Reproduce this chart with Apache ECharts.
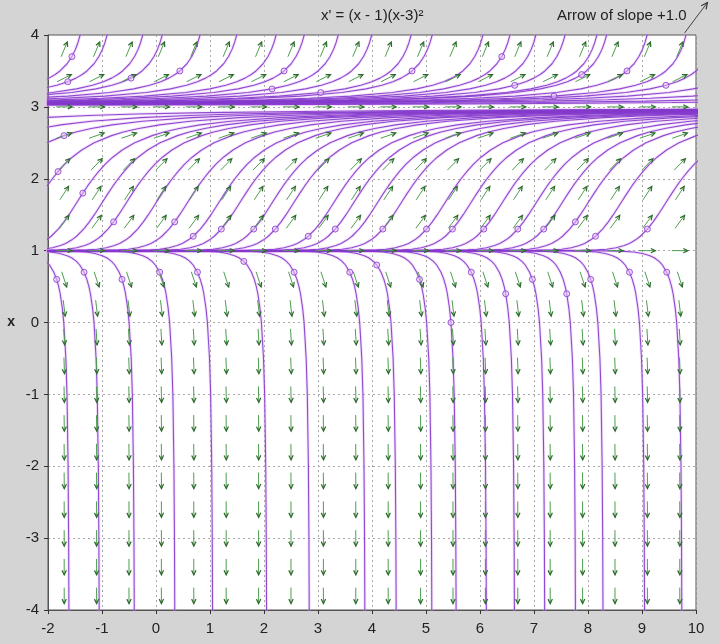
<!DOCTYPE html>
<html>
<head>
<meta charset="utf-8">
<script src="https://cdn.jsdelivr.net/npm/echarts/dist/echarts.min.js"></script>
<style>
html,body{margin:0;padding:0;background:#d4d4d4;}
#chart{width:720px;height:644px;}
</style>
</head>
<body>
<div id="chart"></div>
<script>
// ---- Data ----
const titleText = "x' = (x - 1)(x-3)\u00b2";
const keyText = "Arrow of slope +1.0";

// direction-field grid (t columns, x rows) and the slope drawn in each row
const arrowCols = [-1.7, -1.1, -0.5, 0.1, 0.7, 1.3, 1.9, 2.5, 3.1, 3.7, 4.3, 4.9, 5.5, 6.1, 6.7, 7.3, 7.9, 8.5, 9.1, 9.7];
const arrowRows = [-3.8, -3.4, -3.0, -2.6, -2.2, -1.8, -1.4, -1.0, -0.6, -0.2, 0.2, 0.6, 1.0, 1.4, 1.8, 2.2, 2.6, 3.0, 3.4, 3.8];
const arrowSlopes = [-222, -180, -144, -113, -86.5, -64.5, -46.5, -32, -20.7, -12.3, -6.27, -2.30, 0, 1.02, 1.15, 0.77, 0.26, 0, 0.38, 1.79];

// slope-key arrow at the top right: [t, x, slope]
const keyArrow = [[10.0, 4.24, 1.0]];

// solution profile above x = 3: [time offset from blow-up, x]
const profileAbove = [[-32.1, 3.015], [-23.85, 3.02], [-15.61, 3.03], [-11.52, 3.04], [-9.07, 3.05], [-7.45, 3.06],
  [-5.44, 3.08], [-4.24, 3.1], [-3.45, 3.12], [-2.67, 3.15], [-1.90, 3.2], [-1.451, 3.25], [-1.157, 3.3],
  [-0.953, 3.35], [-0.802, 3.4], [-0.687, 3.45], [-0.598, 3.5], [-0.467, 3.6], [-0.377, 3.7], [-0.312, 3.8],
  [-0.263, 3.9], [-0.225, 4.0], [-0.171, 4.2]];
// solution profile between 1 and 3: [time offset from crossing x = 2, x]
const profileBetween = [[-14, 1.0], [-2.324, 1.0005], [-2.15, 1.001], [-1.875, 1.003], [-1.572, 1.01], [-1.396, 1.02],
  [-1.218, 1.04], [-1.070, 1.07], [-0.973, 1.1], [-0.858, 1.15], [-0.771, 1.2], [-0.640, 1.3], [-0.534, 1.4],
  [-0.441, 1.5], [-0.355, 1.6], [-0.270, 1.7], [-0.185, 1.8], [-0.096, 1.9], [0, 2.0], [0.106, 2.1], [0.226, 2.2],
  [0.369, 2.3], [0.545, 2.4], [0.775, 2.5], [1.097, 2.6], [1.316, 2.65], [1.600, 2.7], [1.986, 2.75], [2.549, 2.8],
  [3.461, 2.85], [4.355, 2.88], [5.236, 2.9], [6.545, 2.92], [8.702, 2.94], [10.416, 2.95], [12.97, 2.96], [17.21, 2.97]];
// solution profile below x = 1: [time offset from blow-down, x]
const profileBelow = [[-14, 1.0], [-1.650, 0.999], [-1.376, 0.997], [-1.077, 0.99], [-0.906, 0.98], [-0.738, 0.96],
  [-0.605, 0.93], [-0.523, 0.9], [-0.433, 0.85], [-0.372, 0.8], [-0.292, 0.7], [-0.240, 0.6], [-0.202, 0.5],
  [-0.174, 0.4], [-0.135, 0.2], [-0.108, 0.0], [-0.069, -0.5], [-0.048, -1.0], [-0.028, -2.0], [-0.018, -3.0],
  [-0.0127, -4.0], [-0.011, -4.5]];

// each solution: [time shift, profile point holding its initial-point circle (-1 = none)]
const curvesAbove = [[-1.18, 18], [-0.68, 13], [-0.02, -1], [0.34, 14], [1.04, 16], [1.72, -1], [2.45, -1],
  [2.97, 16], [3.6, 11], [4.22, -1], [4.95, 10], [5.34, 16], [6.28, -1], [6.78, 18], [7.26, -1], [7.8, 12],
  [8.39, -1], [8.57, 15], [9.32, 16], [10.04, 9], [10.6, 12], [11.4, -1], [12.6, -1], [14.5, -1], [17, -1]];
const curvesBetween = [[-5.6, -1], [-3.75, -1], [-2.8, 24], [-1.92, 19], [-1.17, 16], [-0.7, -1], [-0.25, 12],
  [0.3, -1], [0.88, 12], [1.46, 10], [1.85, 11], [2.45, 11], [2.85, 11], [3.59, 10], [3.96, 11], [4.4, -1],
  [4.84, 11], [5.65, 11], [6.13, 11], [6.71, 11], [7.34, 11], [7.82, 11], [8.3, 12], [8.91, 10], [9.74, 11]];
const curvesBelow = [[-1.6, 11], [-1.04, 10], [-0.39, 11], [0.36, 10], [1.06, 10], [2.06, 8], [2.85, 10],
  [3.88, 10], [4.46, 9], [5.12, 11], [5.57, 15], [6.13, 10], [6.65, 13], [7.21, 11], [7.78, 13], [8.29, 11],
  [9.06, 10], [9.75, 10]];

// ---- build series ----
const solutionLines = [];
const startPoints = [];
function addFamily(profile, curves) {
  curves.forEach(function (c) {
    const pts = profile.map(function (p) { return [c[0] + p[0], p[1]]; });
    solutionLines.push(pts);
    if (c[1] >= 0) startPoints.push(pts[c[1]]);
  });
}
addFamily(profileAbove, curvesAbove);
addFamily(profileBetween, curvesBetween);
addFamily(profileBelow, curvesBelow);

const arrowData = [];
arrowRows.forEach(function (x, j) {
  arrowCols.forEach(function (t) { arrowData.push([t, x, arrowSlopes[j]]); });
});

function makeArrow(L, H, shaft, head, width) {
  return function (params, api) {
    const t = api.value(0), x = api.value(1), m = api.value(2);
    const p0 = api.coord([t, x]);
    const p1 = api.coord([t + 0.001, x + 0.001 * m]);
    let dx = p1[0] - p0[0], dy = p1[1] - p0[1];
    const len = Math.sqrt(dx * dx + dy * dy) || 1;
    dx /= len; dy /= len;
    const a = [p0[0] - dx * L / 2, p0[1] - dy * L / 2];
    const b = [p0[0] + dx * L / 2, p0[1] + dy * L / 2];
    const ang = Math.atan2(dy, dx);
    const h1 = [b[0] - H * Math.cos(ang - 0.45), b[1] - H * Math.sin(ang - 0.45)];
    const h2 = [b[0] - H * Math.cos(ang + 0.45), b[1] - H * Math.sin(ang + 0.45)];
    return {
      type: 'group',
      children: [
        { type: 'line', shape: { x1: a[0], y1: a[1], x2: b[0], y2: b[1] }, style: { stroke: shaft, lineWidth: width } },
        { type: 'polyline', shape: { points: [h1, b, h2] }, style: { stroke: head, fill: null, lineWidth: width + 0.2 } }
      ]
    };
  };
}

const series = [];
solutionLines.forEach(function (pts) {
  series.push({
    type: 'line', data: pts, symbol: 'none', silent: true, clip: true, z: 2,
    lineStyle: { color: 'rgba(220,170,242,0.35)', width: 3 }, animation: false
  });
});
solutionLines.forEach(function (pts) {
  series.push({
    type: 'line', data: pts, symbol: 'none', silent: true, clip: true, z: 3,
    lineStyle: { color: 'rgba(132,58,204,0.9)', width: 1.1 }, animation: false
  });
});
series.push({
  type: 'custom', data: arrowData, renderItem: makeArrow(16, 5, '#4e9e4e', '#2d6a2d', 1),
  z: 4, silent: true, animation: false
});
series.push({
  type: 'scatter', data: startPoints, symbol: 'circle', symbolSize: 6, z: 5, silent: true,
  itemStyle: { color: 'rgba(230,195,246,0.7)', borderColor: '#8236cc', borderWidth: 1 }, animation: false
});
series.push({
  type: 'custom', data: keyArrow, renderItem: makeArrow(38, 7, '#444', '#333', 1),
  z: 6, silent: true, clip: false, animation: false
});

const chart = echarts.init(document.getElementById('chart'), null, { renderer: 'canvas' });
const font = 'Liberation Sans, Arial, sans-serif';
chart.setOption({
  backgroundColor: '#d4d4d4',
  animation: false,
  title: [
    { text: titleText, left: 316, top: 3, textStyle: { fontSize: 15, fontWeight: 'normal', color: '#222', fontFamily: font } },
    { text: keyText, left: 552, top: 3, textStyle: { fontSize: 15, fontWeight: 'normal', color: '#222', fontFamily: font } }
  ],
  grid: { left: 48, right: 24, top: 35, bottom: 34, show: true, backgroundColor: '#ffffff', borderColor: '#555', borderWidth: 1 },
  xAxis: {
    type: 'value', min: -2, max: 10, interval: 1,
    axisLine: { show: true, onZero: false, lineStyle: { color: '#555' } },
    axisTick: { show: true, length: 4, lineStyle: { color: '#333' } },
    axisLabel: { fontSize: 15, color: '#222', margin: 11, fontFamily: font },
    splitLine: { show: true, lineStyle: { color: '#a8a8a8', type: [2, 3], width: 1 } }
  },
  yAxis: {
    type: 'value', min: -4, max: 4, interval: 1,
    name: 'x', nameLocation: 'middle', nameGap: 33, nameRotate: 0,
    nameTextStyle: { fontSize: 14, fontWeight: 'bold', color: '#222', fontFamily: font },
    axisLine: { show: true, onZero: false, lineStyle: { color: '#555' } },
    axisTick: { show: true, length: 4, lineStyle: { color: '#333' } },
    axisLabel: { fontSize: 15, color: '#222', margin: 9, fontFamily: font },
    splitLine: { show: true, lineStyle: { color: '#a8a8a8', type: [2, 3], width: 1 } }
  },
  series: series
});
</script>
</body>
</html>
